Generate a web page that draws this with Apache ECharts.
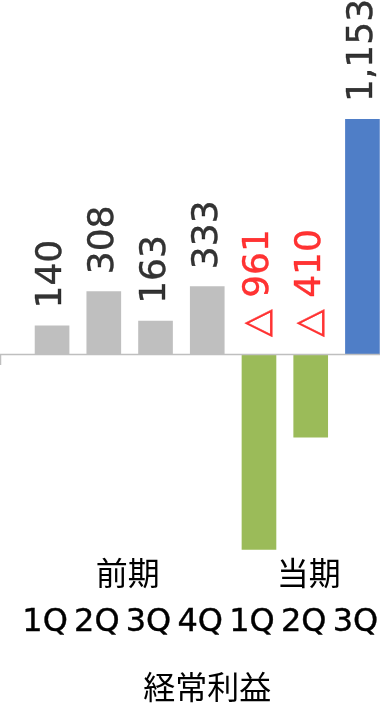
<!DOCTYPE html>
<html><head><meta charset="utf-8">
<script src="https://cdn.jsdelivr.net/npm/echarts@6/dist/echarts.min.js"></script>
<style>html,body{margin:0;padding:0;background:#fff}#c{width:380px;height:706px}</style>
</head><body><div id="c"></div>
<script>
// ---- data ----
const categories = ['1Q', '2Q', '3Q', '4Q', '1Q', '2Q', '3Q'];
const values = [140, 308, 163, 333, -961, -410, 1153];
const periodNames = ['前期', '当期'];
const periodIndex = [0, 0, 0, 0, 1, 1, 1];
const axisTitle = '経常利益';

// ---- styles ----
const LATIN = '"DejaVu Sans", "Noto Sans CJK JP", sans-serif';
const CJK = '"Noto Sans CJK JP", "Noto Sans", sans-serif';
const GRAY = '#BFBFBF', GREEN = '#9BBB59', BLUE = '#4F7EC7';

function barColor(i) {
  if (periodIndex[i] === 0) return GRAY;
  return values[i] < 0 ? GREEN : BLUE;
}
function fmt(v) {
  return v < 0 ? '△ ' + Math.abs(v).toLocaleString('en-US') : v.toLocaleString('en-US');
}

const chart = echarts.init(document.getElementById('c'), null, { renderer: 'canvas' });
chart.setOption({
  animation: false,
  backgroundColor: '#fff',
  grid: { left: 26.2, width: 362.1, top: 48.3, bottom: 148.2, containLabel: false, outerBoundsMode: 'none' },
  xAxis: {
    type: 'category',
    data: categories,
    axisLine: { show: false, onZero: false },
    axisTick: { show: false },
    axisLabel: { margin: 49, fontFamily: LATIN, fontSize: 32, color: '#000', interval: 0,
      padding: [0, 14, 0, 0], textBorderColor: '#000', textBorderWidth: 0.4 },
    name: axisTitle,
    nameLocation: 'middle',
    nameGap: 113,
    nameTextStyle: { fontFamily: CJK, fontSize: 32, color: '#000' }
  },
  yAxis: {
    type: 'value', min: -1000, max: 1500, show: false, splitLine: { show: false }
  },
  series: [
    {
      type: 'bar',
      barWidth: '67%',
      data: values.map((v, i) => ({ value: v, itemStyle: { color: barColor(i) } })),
      silent: true
    },
    {
      type: 'scatter',
      symbolSize: 0,
      data: values.map(v => {
        const c = v < 0 ? '#FF0000' : '#000';
        return { value: Math.max(v, 0), label: { color: c, textBorderColor: c } };
      }),
      label: {
        show: true,
        position: 'top',
        distance: 17,
        rotate: 90,
        align: 'left',
        verticalAlign: 'middle',
        fontFamily: LATIN,
        fontSize: 36,
        textBorderWidth: 0.4,
        formatter: p => fmt(values[p.dataIndex])
      },
      silent: true
    }
  ]
});

// axis line, end tick and period group labels
const zeroY = chart.convertToPixel({ yAxisIndex: 0 }, 0);
const groups = periodNames.map((name, g) => {
  const idx = periodIndex.map((p, i) => p === g ? i : -1).filter(i => i >= 0);
  const x0 = chart.convertToPixel({ xAxisIndex: 0 }, idx[0]);
  const x1 = chart.convertToPixel({ xAxisIndex: 0 }, idx[idx.length - 1]);
  return { name, x: (x0 + x1) / 2 - 2 };
});
const W = chart.getWidth();
chart.setOption({
  graphic: [
    { type: 'line', shape: { x1: 0, y1: Math.round(zeroY) + 0.5, x2: W, y2: Math.round(zeroY) + 0.5 },
      style: { stroke: GRAY, lineWidth: 1.5 }, z: 10 },
    { type: 'line', shape: { x1: 0.5, y1: Math.round(zeroY), x2: 0.5, y2: Math.round(zeroY) + 11 },
      style: { stroke: GRAY, lineWidth: 1.5 }, z: 10 }
  ].concat(groups.map(g => ({
    type: 'text', x: g.x, y: 573,
    style: { text: g.name, fontFamily: CJK, fontSize: 32, fill: '#000', align: 'center', verticalAlign: 'middle' }
  })))
});
</script>
</body></html>
